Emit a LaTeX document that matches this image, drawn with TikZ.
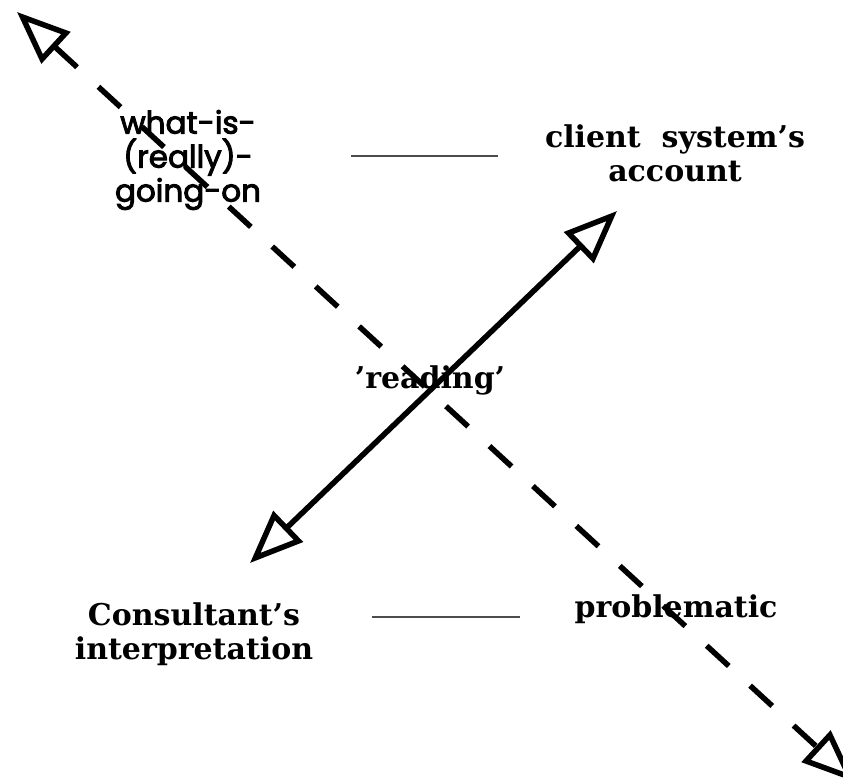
\documentclass[tikz,border=0pt]{standalone}
\usepackage{fontspec}
\setmainfont{DejaVu Serif}
\newfontfamily\geofont{Poppins}[FakeBold=3]
\usetikzlibrary{arrows.meta}
\begin{document}
\begin{tikzpicture}[x=1pt,y=-1pt,
  serifText/.style={font=\bfseries\fontsize{30}{34}\selectfont, align=center, inner sep=0pt},
  geoText/.style={font=\geofont\fontsize{31}{34}\selectfont, align=center, inner sep=0pt},
  thinRule/.style={line width=1.3pt, draw=black!70},
  dashedArrow/.style={line width=5.5pt, dash pattern=on 30pt off 29pt, {Triangle[open, length=53pt, width=42pt]}-{Triangle[open, length=53pt, width=42pt]}},
  solidArrow/.style={line width=5.5pt, {Triangle[open, length=53pt, width=42pt]}-{Triangle[open, length=53pt, width=42pt]}}
]
\clip (0,0) rectangle (843,781);
\fill[white] (0,0) rectangle (843,781);

% labels
\node[geoText]   (what)    at (188,160) {what-is-\\(really)-\\going-on};
\node[serifText] (client)  at (675,153) {client\ \ system’s\\account};
\node[serifText] (reading) at (430,380) {’reading’};
\node[serifText] (consult) at (194,634) {Consultant’s\\interpretation};
\node[serifText] (problem) at (676,609) {problematic};

% thin separators
\coordinate (t1) at (351,156);
\coordinate (t2) at (498,156);
\coordinate (b1) at (372,617);
\coordinate (b2) at (520,617);
\draw[thinRule] (t1) -- (t2);
\draw[thinRule] (b1) -- (b2);

% dashed diagonal
\coordinate (dA) at (17,12);
\coordinate (dB) at (855,782);
\draw[dashedArrow] (dA) -- (dB);

% solid double arrow
\coordinate (sA) at (250,563);
\coordinate (sB) at (617,211);
\draw[solidArrow] (sA) -- (sB);
\end{tikzpicture}
\end{document}
